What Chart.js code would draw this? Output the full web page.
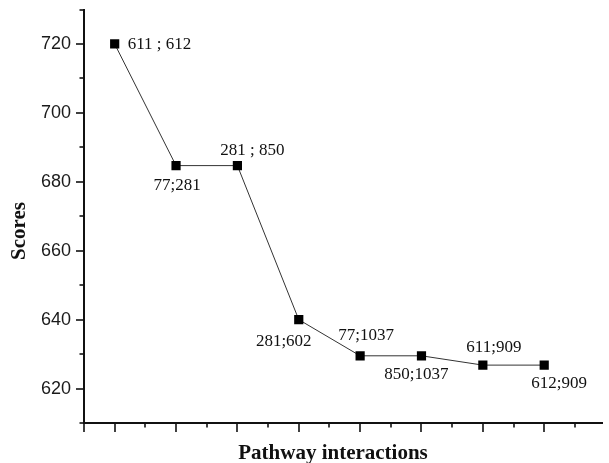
<!DOCTYPE html>
<html>
<head>
<meta charset="utf-8">
<script src="https://cdn.jsdelivr.net/npm/chart.js@4"></script>
<style>
  html, body { margin: 0; padding: 0; background: #fff; }
  #wrap { width: 609px; height: 463px; position: relative; }
</style>
</head>
<body>
<div id="wrap"><canvas id="chart"></canvas></div>
<script>
// data
const positions = [1, 2, 3, 4, 5, 6, 7, 8];
const scores = [720, 684.7, 684.7, 640, 629.5, 629.5, 626.8, 626.8];
const pairLabels = ['611 ; 612', '77;281', '281 ; 850', '281;602', '77;1037', '850;1037', '611;909', '612;909'];
const yTickLabels = [620, 640, 660, 680, 700, 720];
const xTitle = 'Pathway interactions';
const yTitle = 'Scores';

const ink = '#111';

// where each pair label sits relative to its point: [dx, dy, align]
const labelPlace = [
  [13, 5, 'left'], [1, 24, 'center'], [15, -11, 'center'], [-15, 26, 'center'],
  [6, -16, 'center'], [-5, 23, 'center'], [11, -13, 'center'], [15, 23, 'center']
];

const decor = {
  id: 'decor',
  afterDatasetsDraw(chart) {
    const ctx = chart.ctx;
    const x = chart.scales.x, y = chart.scales.y;
    ctx.save();
    // tick marks, long at majors, short at minors
    ctx.strokeStyle = ink;
    ctx.lineWidth = 1.6;
    const yb = y.bottom;
    for (let v = 0.5; v <= 8.5; v += 0.5) {
      const px = Math.round(x.getPixelForValue(v));
      const major = Number.isInteger(v) || v === 0.5;
      ctx.beginPath();
      ctx.moveTo(px, yb);
      ctx.lineTo(px, yb + (major ? 9 : 4.5));
      ctx.stroke();
    }
    for (let v = 610; v <= 730; v += 10) {
      const py = Math.round(y.getPixelForValue(v));
      const major = yTickLabels.includes(v);
      ctx.beginPath();
      ctx.moveTo(x.left, py);
      ctx.lineTo(x.left - (major ? 8 : 4.5), py);
      ctx.stroke();
    }
    // pair labels
    ctx.fillStyle = ink;
    ctx.font = '17px "Liberation Serif", "Times New Roman", serif';
    ctx.textBaseline = 'alphabetic';
    const meta = chart.getDatasetMeta(0);
    meta.data.forEach((pt, i) => {
      const [dx, dy, al] = labelPlace[i];
      ctx.textAlign = al;
      ctx.fillText(pairLabels[i], pt.x + dx, pt.y + dy);
    });
    // axis titles
    ctx.font = 'bold 21px "Liberation Serif", "Times New Roman", serif';
    ctx.textAlign = 'center';
    ctx.fillText(xTitle, 333, 459);
    ctx.translate(25, 231);
    ctx.rotate(-Math.PI / 2);
    ctx.fillText(yTitle, 0, 0);
    ctx.restore();
  }
};

new Chart(document.getElementById('chart'), {
  type: 'line',
  data: {
    datasets: [{
      data: positions.map((p, i) => ({ x: p, y: scores[i] })),
      borderColor: '#333',
      borderWidth: 1,
      pointStyle: 'rect',
      pointRadius: 6.5,
      pointBackgroundColor: '#000',
      pointBorderColor: '#000',
      pointBorderWidth: 0,
      tension: 0
    }]
  },
  options: {
    responsive: true,
    maintainAspectRatio: false,
    animation: false,
    events: [],
    layout: { padding: { top: 9, right: 0, left: 0, bottom: 0 } },
    plugins: { legend: { display: false }, tooltip: { enabled: false } },
    scales: {
      x: {
        type: 'linear',
        min: 0.5,
        max: 8.95,
        afterFit: s => { s.height = 40; },
        afterBuildTicks: s => { s.ticks = positions.map(v => ({ value: v })); },
        grid: { display: true, drawOnChartArea: false, drawTicks: true, tickLength: 9, tickColor: 'rgba(0,0,0,0)' },
        border: { display: true, color: ink, width: 2 },
        ticks: { display: false }
      },
      y: {
        min: 610,
        max: 730,
        afterFit: s => { s.width = 84; },
        ticks: {
          stepSize: 10,
          color: '#1a1a1a',
          padding: 5,
          font: { family: '"Liberation Sans", Arial, sans-serif', size: 18, lineHeight: 0.5 },
          callback: v => yTickLabels.includes(v) ? String(v) : ''
        },
        grid: { display: true, drawOnChartArea: false, drawTicks: true, tickLength: 8, tickColor: 'rgba(0,0,0,0)' },
        border: { display: true, color: ink, width: 2 }
      }
    }
  },
  plugins: [decor]
});
</script>
</body>
</html>
